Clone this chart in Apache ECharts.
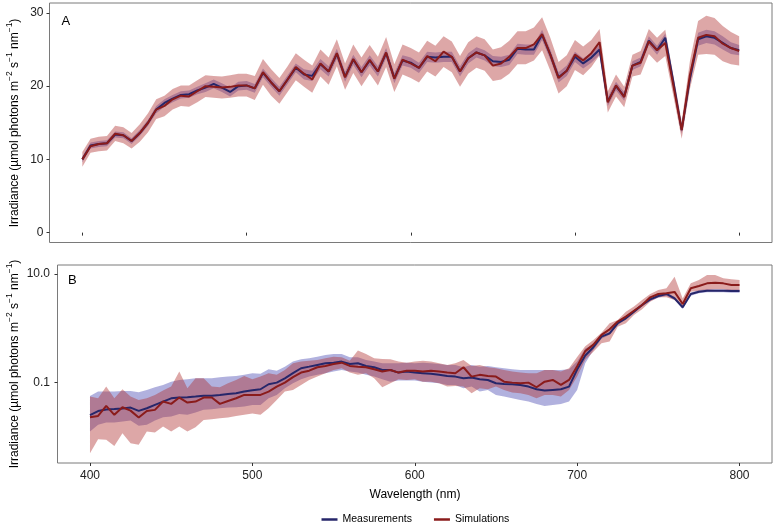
<!DOCTYPE html>
<html><head><meta charset="utf-8">
<script src="https://cdn.jsdelivr.net/npm/echarts@6/dist/echarts.min.js"></script>
<style>html,body{margin:0;padding:0;background:#fff}#c{width:776px;height:528px}</style>
</head><body><div id="c"></div>
<script>
const wavelength = [400,405,410,415,420,425,430,435,440,445,450,455,460,465,470,475,480,485,490,495,500,505,510,515,520,525,530,535,540,545,550,555,560,565,570,575,580,585,590,595,600,605,610,615,620,625,630,635,640,645,650,655,660,665,670,675,680,685,690,695,700,705,710,715,720,725,730,735,740,745,750,755,760,765,770,775,780,785,790,795,800];

// Panel A (linear)
const measA = [10.0,11.9,12.1,12.2,13.4,13.3,12.5,13.6,15.0,16.8,17.7,18.3,18.8,18.9,19.4,19.8,20.3,19.8,19.2,20.0,20.1,19.7,21.8,20.5,19.3,20.9,22.5,21.6,21.4,23.0,22.0,24.4,21.3,23.6,21.9,23.5,22.0,24.5,21.1,23.5,23.2,22.5,24.0,23.9,24.0,24.0,22.0,23.8,24.6,24.2,23.4,23.3,23.6,25.1,25.0,25.0,27.0,24.3,21.2,22.1,24.0,23.1,23.9,25.0,17.9,20.0,18.6,22.8,23.3,26.2,24.9,26.6,20.5,14.0,21.0,26.4,26.8,26.6,25.9,25.2,24.9];
const simA = [10.0,11.8,12.1,12.2,13.5,13.3,12.5,13.6,15.0,16.8,17.3,18.2,18.7,18.6,19.3,20.0,19.9,19.8,19.9,20.1,20.1,19.7,21.9,20.5,19.3,20.9,22.6,21.7,20.9,23.1,22.0,24.5,21.2,23.7,21.9,23.6,22.0,24.6,21.0,23.6,23.1,22.5,24.1,23.4,24.7,24.0,22.0,23.8,24.6,24.2,22.8,23.1,24.0,25.2,25.2,25.7,27.1,24.3,21.1,22.1,24.3,23.5,24.5,26.0,17.8,20.1,18.5,22.8,23.2,26.1,24.9,25.9,20.0,14.0,21.5,26.6,27.0,26.8,25.8,25.2,24.8];
const measLoA = [9.6,11.5,11.7,11.8,13.0,12.9,12.1,13.2,14.6,16.3,17.2,17.8,18.3,18.4,18.9,19.2,19.7,19.2,18.6,19.4,19.5,19.1,21.2,19.9,18.7,20.3,21.9,20.9,20.7,22.3,21.3,23.7,20.6,22.9,21.2,22.8,21.3,23.8,20.4,22.8,22.5,21.8,23.3,23.2,23.3,23.3,21.3,23.1,23.9,23.5,22.7,22.6,22.9,24.4,24.3,24.3,26.3,23.6,20.5,21.4,23.3,22.4,23.2,24.3,17.3,19.4,18.0,22.2,22.7,25.6,24.3,26.0,19.9,13.5,20.3,25.5,25.9,25.7,25.0,24.4,24.2];
const measUpA = [10.4,12.3,12.5,12.6,13.8,13.7,12.9,14.0,15.4,17.3,18.2,18.8,19.3,19.4,19.9,20.4,20.9,20.4,19.8,20.6,20.7,20.3,22.4,21.1,19.9,21.5,23.1,22.3,22.1,23.7,22.7,25.1,22.0,24.3,22.6,24.2,22.7,25.2,21.8,24.2,23.9,23.2,24.7,24.6,24.7,24.7,22.7,24.5,25.3,24.9,24.1,24.0,24.3,25.8,25.7,25.7,27.7,25.0,21.9,22.8,24.7,23.8,24.6,25.7,18.5,20.6,19.2,23.4,23.9,26.8,25.5,27.2,21.1,14.5,21.7,27.3,27.7,27.5,26.8,26.0,25.6];
const simLoA = [9.0,10.9,11.1,11.2,12.5,12.2,11.5,12.4,13.7,15.5,15.9,16.8,17.3,17.2,17.8,18.5,18.4,18.3,18.4,18.6,18.6,18.1,20.2,18.7,17.6,19.2,20.8,19.9,19.1,21.3,20.2,22.7,19.5,21.8,20.0,21.7,20.1,22.6,19.2,21.6,21.1,20.5,22.0,21.3,22.6,21.9,19.9,21.7,22.5,22.1,20.7,20.9,21.7,23.0,23.0,23.5,24.9,22.1,19.0,20.0,22.2,21.5,22.6,24.2,16.4,18.6,17.1,21.3,21.6,24.4,23.2,24.1,18.6,12.8,19.6,24.3,24.4,24.3,23.4,23.0,22.8];
const simUpA = [11.0,12.8,13.1,13.2,14.6,14.4,13.6,14.8,16.3,18.2,18.7,19.6,20.1,20.1,20.8,21.5,21.4,21.3,21.5,21.7,21.7,21.4,23.7,22.3,21.1,22.7,24.5,23.6,22.8,25.0,23.9,26.4,23.1,25.7,23.9,25.6,24.0,26.7,23.0,25.7,25.2,24.6,26.2,25.5,26.8,26.1,24.1,26.0,26.8,26.4,25.0,25.3,26.2,27.5,27.5,28.0,29.4,26.6,23.3,24.2,26.3,25.4,26.3,27.8,19.3,21.6,19.9,24.3,24.8,27.8,26.6,27.7,21.4,15.2,23.4,28.9,29.6,29.3,28.2,27.4,26.8];

// Panel B (log scale)
const measB = [0.0251,0.0299,0.0320,0.0327,0.0335,0.0347,0.0302,0.0337,0.0389,0.0447,0.0513,0.0531,0.0537,0.0553,0.0575,0.0575,0.0594,0.0619,0.0637,0.0684,0.0724,0.0755,0.0933,0.100,0.120,0.149,0.184,0.197,0.212,0.227,0.233,0.244,0.221,0.227,0.203,0.192,0.171,0.171,0.153,0.160,0.153,0.149,0.145,0.139,0.133,0.129,0.120,0.124,0.115,0.112,0.0973,0.0946,0.0933,0.0908,0.0845,0.0755,0.0713,0.0735,0.0755,0.0845,0.174,0.316,0.448,0.703,0.809,1.24,1.53,2.03,2.69,3.42,3.94,4.29,3.56,2.44,4.29,4.73,4.93,4.93,4.93,4.86,4.86];
const simB = [0.0231,0.0244,0.0372,0.0255,0.0352,0.0305,0.0228,0.0301,0.0315,0.0448,0.0406,0.0531,0.0430,0.0448,0.0531,0.0531,0.0406,0.0460,0.0515,0.0594,0.0590,0.0594,0.0684,0.0845,0.100,0.126,0.153,0.166,0.192,0.203,0.221,0.233,0.203,0.197,0.192,0.176,0.160,0.171,0.153,0.166,0.166,0.160,0.166,0.160,0.153,0.149,0.192,0.129,0.139,0.133,0.129,0.104,0.100,0.0973,0.100,0.0822,0.104,0.112,0.0908,0.112,0.200,0.380,0.501,0.759,0.959,1.33,1.64,2.11,2.69,3.72,4.29,4.41,4.68,2.81,5.45,6.01,6.73,6.92,6.73,6.27,6.27];
const measUpB = [0.0569,0.0684,0.0684,0.0684,0.0703,0.0703,0.0665,0.0735,0.0822,0.0908,0.104,0.112,0.115,0.120,0.120,0.120,0.126,0.129,0.133,0.139,0.149,0.145,0.176,0.166,0.197,0.244,0.269,0.281,0.301,0.324,0.337,0.337,0.293,0.293,0.262,0.244,0.227,0.227,0.227,0.233,0.227,0.233,0.227,0.221,0.212,0.212,0.192,0.212,0.197,0.203,0.192,0.184,0.176,0.171,0.171,0.171,0.171,0.171,0.171,0.176,0.245,0.427,0.501,0.759,0.870,1.33,1.63,2.17,2.87,3.65,4.21,4.59,3.81,2.61,4.59,5.06,5.27,5.27,5.27,5.20,5.20];
const measLoB = [0.0126,0.0167,0.0184,0.0184,0.0192,0.0200,0.0160,0.0167,0.0200,0.0231,0.0237,0.0265,0.0255,0.0281,0.0315,0.0324,0.0337,0.0347,0.0352,0.0363,0.0389,0.0389,0.0515,0.0594,0.0787,0.0973,0.115,0.129,0.139,0.149,0.160,0.171,0.160,0.153,0.139,0.129,0.115,0.104,0.109,0.109,0.109,0.104,0.100,0.0973,0.0908,0.0908,0.0787,0.0845,0.0684,0.0735,0.0594,0.0553,0.0515,0.0481,0.0448,0.0406,0.0372,0.0389,0.0406,0.0448,0.0735,0.227,0.398,0.646,0.759,1.16,1.45,1.91,2.51,3.20,3.67,3.98,3.33,2.26,3.98,4.42,4.60,4.60,4.60,4.54,4.54];
const simUpB = [0.0553,0.0515,0.0845,0.0515,0.0755,0.0553,0.0481,0.0515,0.0594,0.0713,0.0845,0.160,0.0787,0.120,0.120,0.0845,0.0822,0.0973,0.112,0.133,0.115,0.129,0.149,0.139,0.171,0.227,0.244,0.254,0.262,0.281,0.301,0.293,0.254,0.389,0.337,0.281,0.273,0.269,0.244,0.233,0.244,0.254,0.244,0.227,0.212,0.227,0.262,0.203,0.212,0.192,0.184,0.171,0.160,0.153,0.149,0.149,0.171,0.171,0.160,0.184,0.295,0.470,0.611,0.832,1.24,1.43,2.03,2.51,3.33,4.29,5.08,5.45,8.93,3.56,6.73,7.76,9.59,9.59,8.32,7.98,7.76];
const simLoB = [0.00501,0.00908,0.00883,0.00684,0.0117,0.00766,0.00714,0.0126,0.0121,0.0155,0.0126,0.0155,0.0126,0.0151,0.0206,0.0212,0.0221,0.0227,0.0244,0.0255,0.0269,0.0255,0.0337,0.0481,0.0684,0.0735,0.0908,0.112,0.129,0.149,0.171,0.184,0.153,0.139,0.149,0.120,0.0822,0.0973,0.115,0.112,0.115,0.104,0.104,0.0973,0.0845,0.0871,0.0845,0.0637,0.0787,0.0755,0.0845,0.0735,0.0655,0.0637,0.0594,0.0515,0.0594,0.0594,0.0553,0.0735,0.129,0.263,0.372,0.530,0.569,1.07,1.24,1.76,2.24,3.10,3.72,3.72,3.33,2.44,4.73,4.93,5.08,5.22,5.22,4.93,4.73];

const xTicks = [400,500,600,700,800];
const yTicksA = [0,10,20,30];
const yTicksB = [0.1,10];
const seriesNames = ['Measurements','Simulations'];

const FONT = '"Liberation Sans", Arial, Helvetica, sans-serif';
const NAVY = '#26266a';
const RED = '#8a1b1b';
const LAV = 'rgba(100,100,190,0.5)';
const PINK = 'rgba(175,45,45,0.42)';
const TXT = '#222';
const FRAME = '#7a7a7a';

function pairs(ys){ return wavelength.map((w,i)=>[w, ys[i]]); }
function band(lo, up, color, idx){
  return {
    type:'custom', name:'band', xAxisIndex:idx, yAxisIndex:idx, silent:true, z:1,
    data: wavelength.map((w,i)=>[w, lo[i], up[i]]),
    encode:{x:0, y:[1,2]},
    renderItem(params, api){
      if (params.dataIndex !== 0) return null;
      const top = wavelength.map((w,i)=>api.coord([w, up[i]]));
      const bot = wavelength.map((w,i)=>api.coord([w, lo[i]])).reverse();
      return {type:'polygon', shape:{points: top.concat(bot)}, style:{fill: color}};
    }
  };
}
function line(name, ys, color, idx, z){
  return {type:'line', name, xAxisIndex:idx, yAxisIndex:idx, data:pairs(ys), symbol:'none',
    lineStyle:{color, width:2}, itemStyle:{color}, z, silent:true};
}
const tickStyle = {show:true, length:3, lineStyle:{color:'#333', width:1}};
function xAxis(idx, labels){
  return {type:'value', gridIndex:idx, min:380, max:820,
    axisLine:{show:false}, splitLine:{show:false},
    axisTick:Object.assign({customValues:xTicks}, tickStyle),
    axisLabel:{show:labels, customValues:xTicks, margin:7, color:TXT, fontSize:12, fontFamily:FONT}};
}
const sup = {fontSize:8.5, lineHeight:9, verticalAlign:'top', fill:'#000', fontFamily:FONT};
const base = {fontSize:12, lineHeight:16, verticalAlign:'bottom', fill:'#000', fontFamily:FONT};
const yTitle = '{n|Irradiance (µmol photons m}{s|−2}{n| s}{s|−1}{n| nm}{s|−1}{n|)}';

const option = {
  animation:false,
  backgroundColor:'#fff',
  grid:[
    {left:49.5, right:4, top:3, height:239.5, show:true, borderColor:FRAME, borderWidth:1, backgroundColor:'transparent', outerBoundsMode:'none', containLabel:false},
    {left:57.5, right:4, top:265, bottom:65, show:true, borderColor:FRAME, borderWidth:1, backgroundColor:'transparent', outerBoundsMode:'none', containLabel:false}
  ],
  xAxis:[xAxis(0,false), xAxis(1,true)],
  yAxis:[
    {type:'value', gridIndex:0, min:-1.35, max:31.35,
      axisLine:{show:false}, splitLine:{show:false},
      axisTick:Object.assign({customValues:yTicksA}, tickStyle),
      axisLabel:{customValues:yTicksA, margin:6, color:TXT, fontSize:12, fontFamily:FONT}},
    {type:'log', logBase:10, gridIndex:1, min:0.00331, max:14.66,
      axisLine:{show:false}, splitLine:{show:false},
      axisTick:Object.assign({customValues:yTicksB}, tickStyle),
      axisLabel:{customValues:yTicksB, margin:7.5, color:TXT, fontSize:12, fontFamily:FONT,
        formatter:v=>Number(v).toFixed(1)}}
  ],
  legend:{
    data:seriesNames, left:316.5, top:509, icon:'rect', itemWidth:16, itemHeight:2.5, itemGap:22,
    textStyle:{fontSize:10.5, color:'#000', fontFamily:FONT}
  },
  graphic:[
    {type:'text', x:13, y:123, rotation:Math.PI/2, style:{text:yTitle, rich:{n:base, s:sup}, align:'center', verticalAlign:'middle', textAlign:'center', textVerticalAlign:'middle'}},
    {type:'text', x:13, y:364, rotation:Math.PI/2, style:{text:yTitle, rich:{n:base, s:sup}, align:'center', verticalAlign:'middle', textAlign:'center', textVerticalAlign:'middle'}},
    {type:'text', x:61.5, y:21, style:{text:'A', fontSize:13, fontFamily:FONT, fill:'#000', align:'left', verticalAlign:'middle', textAlign:'left', textVerticalAlign:'middle'}},
    {type:'text', x:68, y:280, style:{text:'B', fontSize:13, fontFamily:FONT, fill:'#000', align:'left', verticalAlign:'middle', textAlign:'left', textVerticalAlign:'middle'}},
    {type:'text', x:415, y:495, style:{text:'Wavelength (nm)', fontSize:12, fontFamily:FONT, fill:'#000', align:'center', verticalAlign:'middle', textAlign:'center', textVerticalAlign:'middle'}}
  ],
  series:[
    band(measLoA, measUpA, LAV, 0),
    band(simLoA, simUpA, PINK, 0),
    line('Measurements', measA, NAVY, 0, 3),
    line('Simulations', simA, RED, 0, 4),
    band(measLoB, measUpB, LAV, 1),
    band(simLoB, simUpB, PINK, 1),
    line('Measurements', measB, NAVY, 1, 3),
    line('Simulations', simB, RED, 1, 4)
  ]
};
const chart = echarts.init(document.getElementById('c'), null, {renderer:'canvas'});
chart.setOption(option);
</script>
</body></html>
